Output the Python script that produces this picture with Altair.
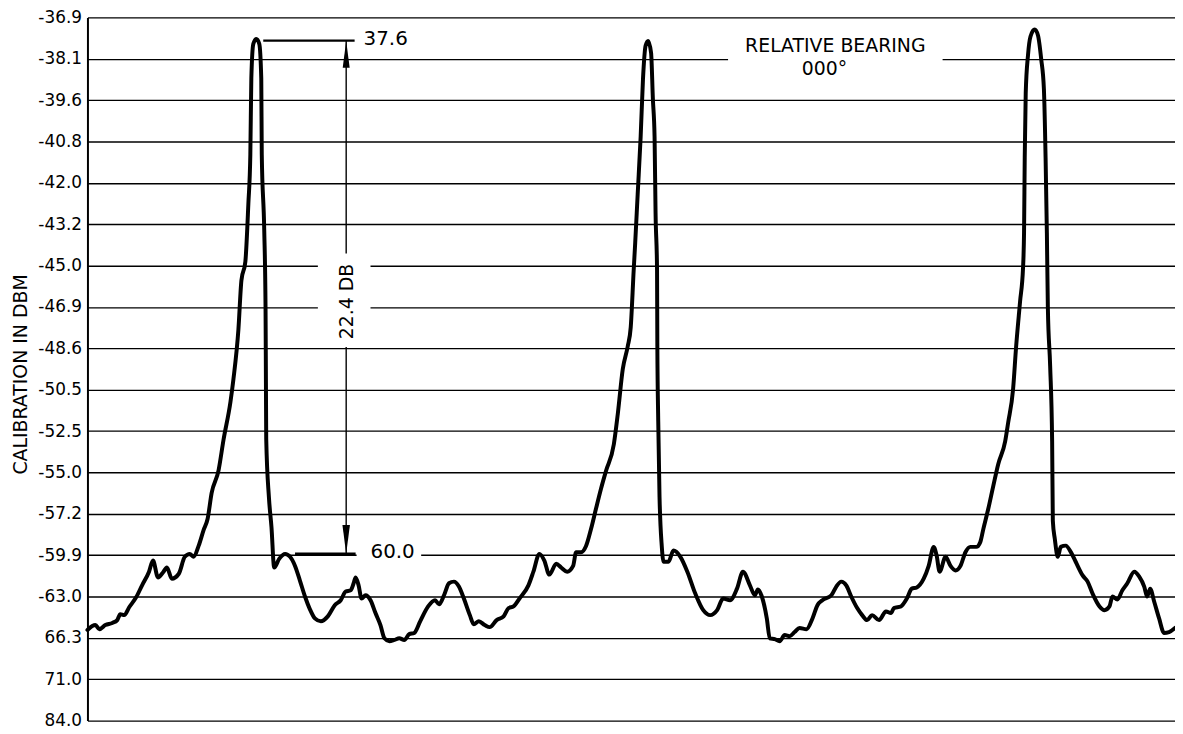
import altair as alt
import pandas as pd

# Calibration labels of the 18 equally spaced chart divisions (top to bottom)
CAL_LABELS = ["-36.9", "-38.1", "-39.6", "-40.8", "-42.0", "-43.2", "-45.0", "-46.9",
              "-48.6", "-50.5", "-52.5", "-55.0", "-57.2", "-59.9", "-63.0", "66.3",
              "71.0", "84.0"]

# Recorder trace: sweep position (chart units) and pen position (divisions below top line)
trace_x = [0, 8, 12, 18, 25, 30, 33, 37, 42, 49, 55, 62, 66, 71, 76, 80, 85, 92, 98, 103,
           107, 112, 117, 121,
           125, 132, 137, 144, 147, 152, 155, 159, 162, 164, 165, 167, 170, 173, 175, 175.5,
           178, 179.3, 179.7, 180, 182.7, 185.3, 188,
           193, 199, 204, 209, 214, 219, 224, 229, 235, 242, 249, 255, 260, 265, 268, 270,
           273, 276, 280, 285, 290, 295, 299, 304, 309, 314, 319, 324, 329, 335, 343, 350,
           354, 359, 364, 369, 374, 379, 385, 389, 394, 400, 405, 412, 419, 424, 429, 435,
           444, 449, 455, 460, 465, 472, 477, 483, 489, 492, 497, 502, 507, 512, 517, 522,
           530, 534, 539, 544, 547, 550, 551.5, 554, 557, 559.3, 562, 564.5, 567.5, 569.3,
           571, 572, 573.5, 573.8, 574.7, 576, 577, 578, 580,
           585, 590, 597, 604, 612, 620, 627, 634, 640, 647, 654, 660, 667, 672, 675, 679,
           684, 687, 692, 697, 702, 707, 712, 717, 724, 730, 735, 740, 749, 754, 759, 764,
           769, 775, 780, 785, 790, 797, 804, 809, 812, 819, 825, 830, 835, 842, 847, 852,
           855, 858, 864, 869, 874, 879, 884, 889, 895, 899, 902, 907, 912, 917, 924, 927,
           932, 935, 939, 942, 943, 943.7, 944.7, 947, 949.5, 953.7, 957, 960.3, 963, 964.7,
           966, 967, 969.3, 971.3, 972, 974, 977, 980, 985, 990, 995, 1002, 1007, 1012, 1019,
           1024, 1029, 1032, 1037, 1042, 1047, 1054, 1059, 1064, 1067, 1070, 1074, 1079,
           1084, 1089, 1095]

trace_y = [14.81, 14.69, 14.79, 14.69, 14.64, 14.57, 14.43, 14.45, 14.26, 14.02, 13.73, 13.40,
           13.13, 13.54, 13.42, 13.30, 13.57, 13.45, 13.04, 12.97, 13.04, 12.77, 12.39, 12.12,
           11.5, 10.95, 10.21, 9.29, 8.74, 7.54, 6.36, 5.9, 4.51, 3.31, 1.47, 0.64, 0.52, 0.64,
           1.47, 3.31, 5.15, 7.0, 8.83, 10.2, 11.6, 12.33, 13.30,
           13.09, 12.97, 13.04, 13.26, 13.62, 14.0, 14.31, 14.53, 14.60, 14.48, 14.21, 14.09,
           13.88, 13.85, 13.68, 13.54, 13.73, 14.05, 13.97, 14.09, 14.40, 14.69, 15.01, 15.08,
           15.05, 15.01, 15.05, 14.91, 14.88, 14.60, 14.24, 14.09, 14.19, 13.97, 13.68, 13.64,
           13.76, 14.05, 14.45, 14.67, 14.60, 14.69, 14.74, 14.57, 14.48, 14.28, 14.24, 14.05,
           13.73, 13.40, 12.97, 13.13, 13.47, 13.21, 13.30, 13.40, 13.26, 12.93, 12.93, 12.78,
           12.37, 11.88, 11.40, 10.97, 10.32, 9.58, 8.50, 7.95, 7.49, 6.10, 5.45, 4.27, 2.88,
           1.51, 0.68, 0.57, 0.86, 1.97, 2.88, 4.73, 6.10, 7.95, 9.77, 11.60, 12.29, 12.70,
           13.16,
           13.16, 12.89, 13.04, 13.40, 13.93, 14.33, 14.45, 14.33, 14.05, 14.09, 13.81, 13.40,
           13.73, 13.97, 13.83, 14.00, 14.53, 15.01, 15.03, 15.08, 14.93, 14.96, 14.86, 14.76,
           14.79, 14.53, 14.21, 14.09, 13.97, 13.76, 13.64, 13.73, 14.00, 14.28, 14.45, 14.57,
           14.45, 14.57, 14.36, 14.40, 14.28, 14.24, 14.05, 13.81, 13.78, 13.57, 13.26, 12.80,
           13.01, 13.40, 13.04, 13.26, 13.37, 13.26, 12.93, 12.80, 12.80, 12.68, 12.37, 11.88,
           11.33, 10.80, 10.25, 9.80, 8.98, 7.97, 6.87, 6.05, 5.21, 3.39, 1.83, 0.91, 0.46,
           0.29, 0.43, 1.01, 1.73, 3.39, 5.21, 7.03, 8.43, 10.25, 12.17, 12.61, 13.04, 12.80,
           12.77, 12.92, 13.16, 13.49, 13.64, 13.93, 14.24, 14.33, 14.24, 14.00, 14.07, 13.85,
           13.68, 13.40, 13.52, 13.76, 14.00, 13.81, 14.12, 14.53, 14.88, 14.86, 14.76]

# Annotation values
PEAK_LEVEL = "37.6"
BASE_LEVEL = "60.0"
SPAN_TEXT = "22.4 DB"
BEARING_TEXT = ["RELATIVE BEARING", "000°"]

trace = pd.DataFrame({"x": trace_x, "y": trace_y, "i": list(range(len(trace_x)))})

xs = alt.Scale(domain=[0, 1095], nice=False, zero=False)
ys = alt.Scale(domain=[0, 17], reverse=True, nice=False, zero=False)

label_expr = "[" + ",".join("'%s'" % s for s in CAL_LABELS) + "][datum.value]"

y_axis = alt.Axis(
    values=list(range(len(CAL_LABELS))), labelExpr=label_expr,
    grid=True, gridColor="black", gridWidth=1.4, gridOpacity=1,
    domain=True, domainColor="black", domainWidth=2, ticks=False,
    labelPadding=6, labelFont="DejaVu Sans", labelFontSize=17, labelColor="black",
    title="CALIBRATION IN DBM", titleFont="DejaVu Sans", titleFontSize=19,
    titleFontWeight="normal", titleColor="black", titleX=-67, titleY=359,
    titleAlign="center", titleBaseline="middle", titleAngle=270,
)

X = lambda f: alt.X(f, type="quantitative", scale=xs, axis=None)
Y = lambda f: alt.Y(f, type="quantitative", scale=ys, axis=y_axis)

# white gaps where the lettering interrupts the grid lines
gaps = pd.DataFrame({
    "x": [232, 645, 271], "x2": [285, 861, 336],
    "y": [5.71, 0.85, 12.80], "y2": [7.97, 1.15, 13.15],
})
gap_layer = alt.Chart(gaps).mark_rect(color="white").encode(
    x=X("x"), x2="x2", y=Y("y"), y2="y2")

# dimension lines
vert = pd.DataFrame({"x": [260.5, 260.5], "x2": [260.5, 260.5],
                     "y": [0.56, 7.97], "y2": [5.71, 12.97]})
vert_layer = alt.Chart(vert).mark_rule(color="black", strokeWidth=1.4).encode(
    x=X("x"), x2="x2", y=Y("y"), y2="y2")

top_lead = pd.DataFrame({"x": [177], "x2": [269], "y": [0.56], "y2": [0.56]})
top_layer = alt.Chart(top_lead).mark_rule(color="black", strokeWidth=2.2).encode(
    x=X("x"), x2="x2", y=Y("y"), y2="y2")

bot_lead = pd.DataFrame({"x": [209], "x2": [270], "y": [12.97], "y2": [12.97]})
bot_layer = alt.Chart(bot_lead).mark_rule(color="black", strokeWidth=2.6).encode(
    x=X("x"), x2="x2", y=Y("y"), y2="y2")

arrow_up = alt.Chart(pd.DataFrame({"x": [260.5], "y": [0.89]})).mark_point(
    shape="M0,-1L0.26,1L-0.26,1Z", filled=True, size=729, color="black",
    opacity=1, strokeWidth=0).encode(x=X("x"), y=Y("y"))
arrow_dn = alt.Chart(pd.DataFrame({"x": [260.5], "y": [12.62]})).mark_point(
    shape="M0,1L0.26,-1L-0.26,-1Z", filled=True, size=841, color="black",
    opacity=1, strokeWidth=0).encode(x=X("x"), y=Y("y"))

line = alt.Chart(trace).mark_line(
    color="black", strokeWidth=4, strokeJoin="round", strokeCap="round",
    interpolate="monotone").encode(
    x=X("x"), y=Y("y"), order="i:Q")

txt_left = pd.DataFrame({"x": [278, 285], "y": [0.52, 12.92], "t": [PEAK_LEVEL, BASE_LEVEL]})
txt_left_layer = alt.Chart(txt_left).mark_text(
    align="left", baseline="middle", font="DejaVu Sans", fontSize=20, color="black").encode(
    x=X("x"), y=Y("y"), text="t:N")

txt_span = alt.Chart(pd.DataFrame({"x": [261], "y": [6.87], "t": [SPAN_TEXT]})).mark_text(
    align="center", baseline="middle", angle=270, font="DejaVu Sans", fontSize=19,
    color="black").encode(x=X("x"), y=Y("y"), text="t:N")

txt_bear = pd.DataFrame({"x": [753, 742], "y": [0.68, 1.25], "t": BEARING_TEXT})
txt_bear_layer = alt.Chart(txt_bear).mark_text(
    align="center", baseline="middle", font="DejaVu Sans", fontSize=19, color="black").encode(
    x=X("x"), y=Y("y"), text="t:N")

chart = alt.layer(
    gap_layer, vert_layer, top_layer, bot_layer, arrow_up, arrow_dn, line,
    txt_left_layer, txt_span, txt_bear_layer,
).properties(
    width=1095, height=708,
    autosize=alt.AutoSizeParams(type="none"),
    padding={"left": 80, "top": 7, "right": 0, "bottom": 10},
    background="white",
).configure_view(stroke=None)

chart.save("out.html", embed_options={"renderer": "svg", "actions": False})
